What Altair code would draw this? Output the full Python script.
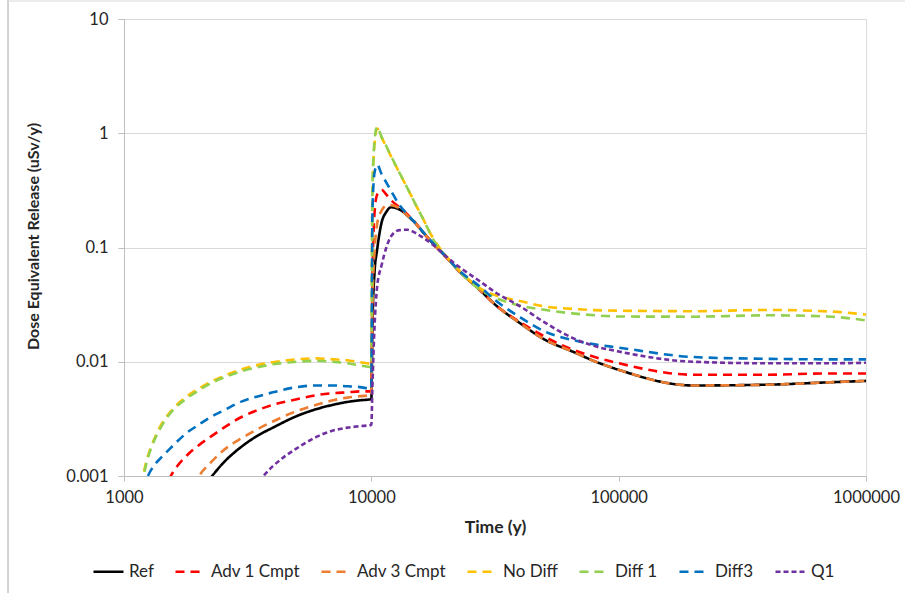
import altair as alt
import pandas as pd

# Series names, colours and dash styles
SERIES = ["Ref", "Adv 1 Cmpt", "Adv 3 Cmpt", "No Diff", "Diff 1", "Diff3", "Q1"]
COLORS = ["#000000", "#FF0000", "#ED7D31", "#FFC000", "#92D050", "#0070C0", "#7030A0"]
DASHES = [[1, 0], [9, 6], [9, 6], [9, 6], [9, 6], [9, 6], [5, 3]]

# Time points (years): ingrowth phase up to 10 000 y, then release phase
T_EARLY = [1150, 1200, 1250, 1300, 1400, 1500, 1600, 1800, 2000, 2250,
           2500, 3000, 3500, 4000, 5000, 6000, 7000, 8000, 9000, 10000]
T_LATE = [10100, 10300, 10550, 11000, 11500, 12000, 13000, 14000, 15000, 16000,
          18000, 20000, 23000, 27000, 32000, 40000, 50000, 65000, 80000, 100000,
          200000, 400000, 700000, 1000000]

# Dose equivalent release (uSv/y); None = not drawn
ref_early = [None, None, None, None, None, None, None, None, 0.00075, 0.00098,
             0.00128, 0.00182, 0.00228, 0.00265, 0.00335, 0.00385, 0.0042, 0.00445, 0.0046, 0.0047]
ref_late = [0.02, 0.06, 0.095, 0.165, 0.205, 0.225, 0.215, 0.19, 0.165, 0.14,
            0.105, 0.083, 0.06, 0.044, 0.031, 0.0217, 0.0157, 0.0123, 0.0101, 0.0085,
            0.0062, 0.0063, 0.0066, 0.0068]

adv1_early = [None, None, None, None, 0.00072, 0.0009, 0.00113, 0.00152, 0.00185, 0.00222,
              0.0026, 0.0033, 0.0038, 0.0042, 0.0047, 0.0051, 0.0053, 0.0054, 0.0055, 0.0055]
adv1_late = [0.05, 0.2, 0.29, 0.32, 0.29, 0.26, 0.225, 0.195, 0.167, 0.14,
             0.105, 0.083, 0.06, 0.044, 0.031, 0.0222, 0.0167, 0.0128, 0.011, 0.0097,
             0.0077, 0.0077, 0.0079, 0.0079]

adv3_early = [None, None, None, None, None, None, None, 0.0006, 0.00098, 0.00132,
              0.00165, 0.00215, 0.0026, 0.003, 0.0037, 0.0042, 0.0046, 0.00485, 0.005, 0.0051]
adv3_late = [0.03, 0.09, 0.16, 0.21, 0.232, 0.235, 0.22, 0.19, 0.165, 0.14,
             0.105, 0.083, 0.06, 0.044, 0.031, 0.0217, 0.0157, 0.0123, 0.0101, 0.0085,
             0.0062, 0.0063, 0.0066, 0.0068]

nodiff_early = [0.0006, 0.00105, 0.0015, 0.0019, 0.0027, 0.0034, 0.004, 0.005, 0.0058, 0.0067,
                0.0074, 0.0086, 0.0094, 0.0099, 0.0105, 0.0107, 0.0105, 0.0103, 0.0099, 0.0096]
nodiff_late = [0.3, 0.8, 1.1, 0.92, 0.76, 0.63, 0.45, 0.33, 0.245, 0.187,
               0.115, 0.085, 0.061, 0.045, 0.038, 0.034, 0.0305, 0.029, 0.0283, 0.028,
               0.0277, 0.0284, 0.0276, 0.0259]

diff1_early = [0.0006, 0.001, 0.00145, 0.00185, 0.0026, 0.0033, 0.0039, 0.0048, 0.0056, 0.0065,
               0.0072, 0.0083, 0.009, 0.0095, 0.01, 0.0102, 0.01, 0.0097, 0.0093, 0.009]
diff1_late = [0.3, 0.85, 1.14, 0.93, 0.77, 0.635, 0.45, 0.33, 0.245, 0.187,
              0.113, 0.084, 0.06, 0.044, 0.036, 0.031, 0.0285, 0.0265, 0.0255, 0.0249,
              0.0248, 0.0255, 0.0249, 0.023]

diff3_early = [None, 0.00075, 0.001, 0.00117, 0.00142, 0.00165, 0.0019, 0.0024, 0.0028, 0.0033,
               0.0037, 0.0045, 0.005, 0.0054, 0.006, 0.0062, 0.0062, 0.0061, 0.006, 0.0058]
diff3_late = [0.2, 0.45, 0.53, 0.44, 0.37, 0.315, 0.235, 0.195, 0.166, 0.141,
              0.106, 0.084, 0.061, 0.047, 0.034, 0.0245, 0.0185, 0.0155, 0.0142, 0.0133,
              0.011, 0.0106, 0.0105, 0.0105]

q1_early = [None, None, None, None, None, None, None, None, None, None,
            None, None, 0.0009, 0.00122, 0.00175, 0.0022, 0.0025, 0.00265, 0.00273, 0.0028]
q1_late = [0.006, 0.02, 0.045, 0.07, 0.1, 0.125, 0.142, 0.143, 0.135, 0.124,
           0.103, 0.084, 0.066, 0.052, 0.04, 0.0305, 0.0222, 0.0162, 0.0137, 0.0123,
           0.01, 0.0097, 0.0097, 0.0098]

VALUES = {
    "Ref": ref_early + ref_late,
    "Adv 1 Cmpt": adv1_early + adv1_late,
    "Adv 3 Cmpt": adv3_early + adv3_late,
    "No Diff": nodiff_early + nodiff_late,
    "Diff 1": diff1_early + diff1_late,
    "Diff3": diff3_early + diff3_late,
    "Q1": q1_early + q1_late,
}
TIMES = T_EARLY + T_LATE

rows = []
for name in SERIES:
    for t, v in zip(TIMES, VALUES[name]):
        if v is not None:
            rows.append({"Time": t, "Dose": v, "Series": name})
df = pd.DataFrame(rows)

FONT = "Lato"
TEXT = "#262626"
AXIS_GRAY = "#bfbfbf"

legend = alt.Legend(
    title=None, orient="none", legendX=-32, legendY=536, direction="horizontal",
    columns=7, symbolType="stroke", symbolSize=900, symbolStrokeWidth=2.5,
    labelFont=FONT, labelFontSize=17, labelColor=TEXT, labelOffset=4,
    columnPadding=16,
)

base = alt.Chart(df).mark_line(strokeWidth=2.6, clip=True, interpolate="monotone").encode(
    x=alt.X(
        "Time:Q",
        scale=alt.Scale(type="log", domain=[1000, 1000000]),
        axis=alt.Axis(
            values=[1000, 10000, 100000, 1000000], format="d", grid=False,
            labelFlush=False, labelOverlap=False,
            labelFont=FONT, labelFontSize=16.5, labelColor=TEXT, labelPadding=8,
            tickSize=5, tickColor=AXIS_GRAY, domainColor=AXIS_GRAY,
            title="Time (y)", titleFont=FONT, titleFontSize=17.5, titleFontWeight="bold",
            titleColor=TEXT, titleX=371, titleY=51, titleBaseline="middle",
        ),
    ),
    y=alt.Y(
        "Dose:Q",
        scale=alt.Scale(type="log", domain=[0.001, 10]),
        axis=alt.Axis(
            values=[0.001, 0.01, 0.1, 1, 10], format="~g", grid=True,
            gridColor="#d9d9d9", labelFont=FONT, labelFontSize=16.5, labelColor=TEXT,
            labelPadding=10, tickSize=6, tickColor=AXIS_GRAY, domainColor=AXIS_GRAY,
            title="Dose Equivalent Release (uSv/y)", titleFont=FONT, titleFontSize=16,
            titleFontWeight="bold", titleColor=TEXT, titleX=-91, titleY=217,
            titleBaseline="middle", titleAlign="center", titleAngle=270,
        ),
    ),
    color=alt.Color("Series:N", scale=alt.Scale(domain=SERIES, range=COLORS), legend=legend),
    strokeDash=alt.StrokeDash("Series:N", scale=alt.Scale(domain=SERIES, range=DASHES), legend=legend),
)

# one layer per series so later series are drawn on top
layers = [base.transform_filter(alt.datum.Series == name) for name in SERIES]

# chart-area border (left and top edges)
frame = pd.DataFrame({"k": [0]})
border_left = alt.Chart(frame).mark_rule(color="#a6a6a6", strokeWidth=1).encode(
    x=alt.value(-116), y=alt.value(-19), y2=alt.value(600))
border_top = alt.Chart(frame).mark_rule(color="#d9d9d9", strokeWidth=1).encode(
    y=alt.value(-18), x=alt.value(-116), x2=alt.value(800))

chart = alt.layer(border_left, border_top, *layers).properties(
    width=742, height=457,
    padding={"left": 124, "top": 19, "right": 39, "bottom": 117},
    autosize=alt.AutoSizeParams(type="none"),
).configure_view(stroke=None).configure(background="white")

chart.save("out.html", embed_options={"renderer": "svg", "actions": False})
